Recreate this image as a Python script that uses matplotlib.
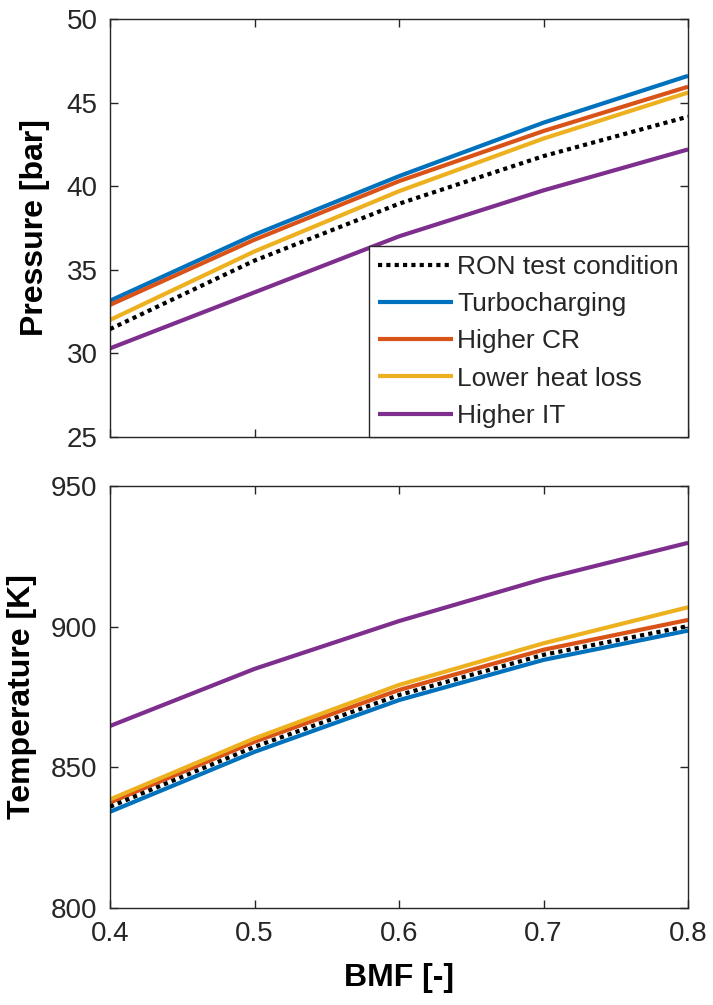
import numpy as np
import matplotlib.pyplot as plt

# ------------------------------------------------ DATE --------------------------------------------------------------

bmf = [0.4, 0.5, 0.6, 0.7, 0.8]

nume = ['RON test condition', 'Turbocharging', 'Higher CR', 'Lower heat loss', 'Higher IT']
culori = ['black', '#0072BD', '#D95319', '#EDB120', '#7E2F8E']

# presiune [bar]
p_ron = [31.45, 35.55, 38.95, 41.8, 44.16]
p_turbo = [33.15, 37.1, 40.6, 43.8, 46.6]
p_cr = [32.9, 36.8, 40.3, 43.3, 45.95]
p_heat = [32.0, 36.1, 39.7, 42.85, 45.6]
p_it = [30.3, 33.65, 37.0, 39.75, 42.2]

# temperatura [K]
t_ron = [836.0, 857.3, 875.7, 890.0, 900.2]
t_turbo = [834.2, 855.5, 873.9, 888.2, 898.6]
t_cr = [837.5, 859.1, 877.5, 891.8, 902.4]
t_heat = [838.6, 860.3, 879.3, 894.1, 906.9]
t_it = [864.7, 885.0, 902.0, 917.0, 929.8]

p_ticks = [25, 30, 35, 40, 45, 50]
t_ticks = [800, 850, 900, 950]
x_ticks = [0.4, 0.5, 0.6, 0.7, 0.8]


# ---------------------------------------------- GRAFIC -------------------------------------------------------------

plt.rcParams['font.family'] = ['Liberation Sans', 'DejaVu Sans']
plt.rcParams['text.color'] = '#262626'

fig = plt.figure(figsize=(7.13, 10.05), dpi=100)
ax1 = fig.add_axes([0.1543, 0.5652, 0.8107, 0.4159])
ax2 = fig.add_axes([0.1543, 0.0965, 0.8107, 0.4199])


def traseaza(ax, serii):
    # ordinea de desenare: intai liniile colorate, apoi cea punctata deasupra
    for i in [1, 2, 3, 4, 0]:
        if i == 0:
            ax.plot(bmf, serii[i], color=culori[i], lw=3, linestyle=(0, (1, 1)),
                    label=nume[i], zorder=5)
        else:
            ax.plot(bmf, serii[i], color=culori[i], lw=3, label=nume[i],
                    solid_capstyle='butt', solid_joinstyle='round')


def aranjeaza(ax, ticks):
    ax.set_xlim(0.4, 0.8)
    ax.set_ylim(ticks[0], ticks[-1])
    ax.set_xticks(x_ticks)
    ax.set_yticks(ticks)
    ax.tick_params(direction='in', length=6, width=1, colors='#262626',
                   labelsize=20, top=True, right=True, pad=9)
    for s in ax.spines.values():
        s.set_color('#262626')
        s.set_linewidth(1)


traseaza(ax1, [p_ron, p_turbo, p_cr, p_heat, p_it])
aranjeaza(ax1, p_ticks)
ax1.set_xticklabels([])
ax1.set_ylabel('Pressure [bar]', fontsize=23, fontweight='bold', labelpad=12)

# legenda in ordinea originala
h, l = ax1.get_legend_handles_labels()
ordine = [l.index(n) for n in nume]
leg = ax1.legend([h[i] for i in ordine], [l[i] for i in ordine], loc='lower right',
                 bbox_to_anchor=(1.0, 0.0), borderaxespad=0, fontsize=19, fancybox=False,
                 framealpha=1, edgecolor='#262626', handlelength=2.85, handletextpad=0.15,
                 labelspacing=0.5, borderpad=0.35)
leg.get_frame().set_linewidth(1)

traseaza(ax2, [t_ron, t_turbo, t_cr, t_heat, t_it])
aranjeaza(ax2, t_ticks)
ax2.set_xticklabels(['0.4', '0.5', '0.6', '0.7', '0.8'])
ax2.set_ylabel('Temperature [K]', fontsize=23, fontweight='bold', labelpad=10)
ax2.set_xlabel('BMF [-]', fontsize=23, fontweight='bold', labelpad=12)

fig.savefig('out.png', dpi=100)
